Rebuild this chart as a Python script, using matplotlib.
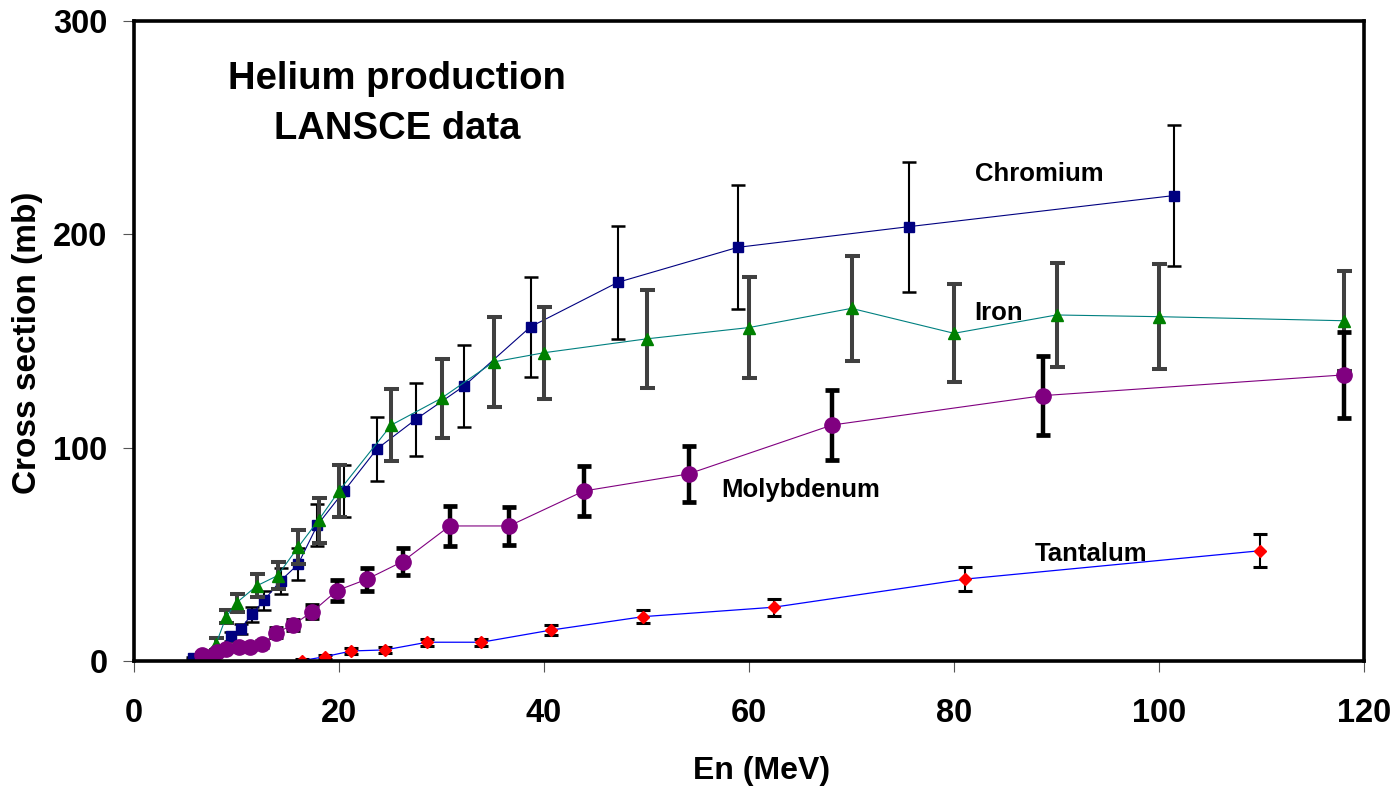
import matplotlib
matplotlib.use("Agg")
import matplotlib.pyplot as plt

plt.rcParams['font.family'] = ['Liberation Sans', 'DejaVu Sans']
plt.rcParams['font.weight'] = 'bold'

# ---- data ----
cr_x = [5.8, 8.2, 9.5, 10.4, 11.5, 12.7, 14.3, 16.0, 17.9, 20.5, 23.7, 27.5, 32.2, 38.7, 47.2, 58.9, 75.6, 101.5]
cr_y = [1.3, 5.0, 11.5, 15.0, 22.0, 28.5, 37.6, 45.3, 63.8, 79.7, 99.4, 113.3, 128.9, 156.7, 177.5, 193.9, 203.6, 218.2]
cr_e = [0.5, 1.5, 2.0, 2.5, 3.5, 4.5, 6.0, 7.5, 10, 12, 15, 17, 19, 23.5, 26.5, 29, 30.5, 33]

fe_x = [8.0, 9.0, 10.0, 12.0, 14.0, 16.0, 18.0, 20.0, 25.1, 30.0, 35.1, 40.0, 50.0, 60.0, 70.0, 80.0, 90.0, 100.0, 118.0]
fe_y = [8.0, 20.8, 27.3, 35.3, 40.0, 53.3, 66.0, 79.7, 110.6, 123.2, 140.2, 144.5, 151.0, 156.3, 165.3, 153.6, 162.2, 161.4, 159.5]
fe_e = [3, 3.2, 4.2, 5.5, 6.3, 8, 10.5, 12, 17, 18.5, 21, 21.5, 23, 23.5, 24.5, 23, 24.4, 24.5, 23.5]

mo_x = [6.6, 7.1, 8.1, 9.0, 10.2, 11.3, 12.5, 13.9, 15.5, 17.4, 19.8, 22.7, 26.2, 30.8, 36.6, 43.9, 54.1, 68.1, 88.7, 118.0]
mo_y = [2.8, 1.7, 4.4, 5.5, 6.4, 6.7, 8.0, 13.3, 16.9, 23.1, 33.0, 38.3, 46.6, 63.3, 63.3, 79.7, 87.7, 110.6, 124.4, 134.1]
mo_e = [1, 1, 1, 1, 1, 1, 1.5, 2, 2.5, 3, 5, 5.5, 6.5, 9.5, 9, 11.7, 13, 16.5, 18.4, 20]

ta_x = [16.4, 18.6, 21.2, 24.5, 28.6, 33.9, 40.7, 49.7, 62.4, 81.1, 109.9]
ta_y = [0.2, 2.0, 4.7, 5.2, 8.8, 8.8, 14.5, 20.8, 25.2, 38.4, 51.7]
ta_e = [0.8, 1.0, 1.2, 1.3, 1.7, 1.7, 2.5, 3.1, 3.9, 5.6, 7.8]

x_ticks = [0, 20, 40, 60, 80, 100, 120]
y_ticks = [0, 100, 200, 300]

labels = [("Chromium", 82.0, 228.3), ("Iron", 82.0, 163.0),
          ("Molybdenum", 57.3, 80.2), ("Tantalum", 87.9, 50.2)]
title_text = "Helium production\nLANSCE data"

# ---- figure ----
fig = plt.figure(figsize=(13.98, 7.91), dpi=100)
ax = fig.add_axes([134/1398, 1-661/791, 1230/1398, 640/791])

ax.errorbar(cr_x, cr_y, yerr=cr_e, fmt='-s', color='#000080', ms=7, lw=0.8,
            ecolor='black', elinewidth=1.5, capsize=4.7, capthick=1.8, zorder=3)
ax.errorbar(fe_x, fe_y, yerr=fe_e, fmt='-^', color='#008080', mfc='#008000', mec='#008000',
            ms=8, lw=0.8, ecolor='#404040', elinewidth=2.9, capsize=5.4, capthick=2.9, zorder=4)
ax.errorbar(mo_x, mo_y, yerr=mo_e, fmt='-o', color='#800080', ms=11, lw=0.8,
            ecolor='black', elinewidth=3.2, capsize=4.7, capthick=3.4, zorder=5)
ax.errorbar(ta_x, ta_y, yerr=ta_e, fmt='-D', color='#0000FF', mfc='#FF0000', mec='#FF0000',
            ms=6, lw=0.9, ecolor='black', elinewidth=1.5, capsize=5, capthick=2.2, zorder=6)

ax.set_xlim(0, 120)
ax.set_ylim(0, 300)
ax.set_xticks(x_ticks)
ax.set_yticks(y_ticks)
ax.set_xticklabels([str(v) for v in x_ticks])
ax.set_yticklabels([str(v) for v in y_ticks])

for s in ax.spines.values():
    s.set_linewidth(2.6)
    s.set_color('black')
    s.set_zorder(7)

ax.tick_params(axis='x', direction='out', length=8, width=0.8, color='#555555',
               pad=19, labelsize=23.5)
ax.tick_params(axis='y', direction='out', length=8, width=0.8, color='#555555',
               pad=11, labelsize=23.5)
for t in ax.get_xticklabels() + ax.get_yticklabels():
    t.set_fontweight('bold')

ax.set_xlabel("En (MeV)", fontsize=23, fontweight='bold', va='center')
ax.xaxis.set_label_coords(0.51, -0.172)
ax.set_ylabel("Cross section (mb)", fontsize=24, fontweight='bold', va='center')
ax.yaxis.set_label_coords(-0.0862, 0.497)

for txt, lx, ly in labels:
    ax.text(lx, ly, txt, fontsize=18.5, fontweight='bold', ha='left', va='center', zorder=8)

ax.text(25.7, 261.0, title_text, fontsize=27.5, fontweight='bold', ha='center', va='center',
        multialignment='center', linespacing=1.5, zorder=8)

fig.savefig("out.png", dpi=100)
